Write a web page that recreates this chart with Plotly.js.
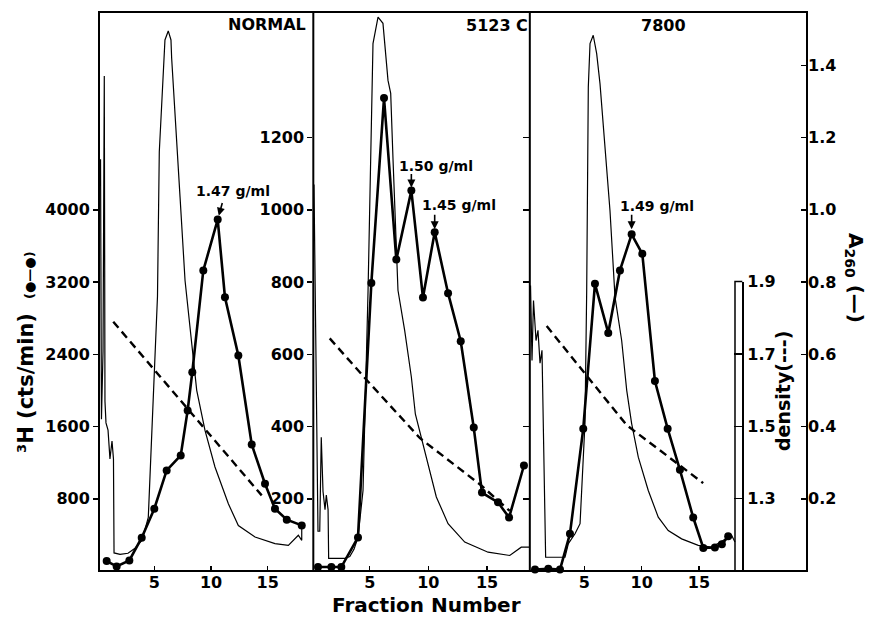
<!DOCTYPE html>
<html>
<head>
<meta charset="utf-8">
<script src="https://cdn.plot.ly/plotly-3.0.1.min.js"></script>
<style>html,body{margin:0;padding:0;background:#fff;}</style>
</head>
<body>
<div id="chart" style="width:879px;height:618px;"></div>
<script>
// ---- Panel titles ----
const panelNames = ["NORMAL", "5123 C", "7800"];

// ---- 3H (cts/min), dots + thick line ----
const frac1 = [0.80,1.68,2.80,3.89,5.00,6.09,7.33,7.94,8.35,9.32,10.59,11.23,12.41,13.59,14.76,15.64,16.68,18.00];
const h3_1  = [110,51,117,369,690,1114,1280,1778,2202,3328,3892,3032,2387,1401,966,690,568,505];

const frac2 = [0.59,1.73,2.58,4.00,5.14,6.22,7.27,8.55,9.54,10.54,11.68,12.76,13.87,14.57,15.94,16.88,18.15];
const h3_2  = [11,11,11,93,797,1309,862,1053,757,938,769,636,397,217,190,148,292];

const frac3 = [0.70,1.86,2.88,3.75,4.91,5.93,7.09,8.11,9.13,10.06,11.16,12.27,13.34,14.50,15.38,16.39,17.00,17.55];
const h3_3  = [4,6,4,103,394,795,659,832,932,878,526,394,280,148,64,65,74,96];

// ---- A260, thin line ----
const a1_f = [0.26,0.34,0.48,0.59,0.65,0.74,0.92,1.09,1.27,1.40,1.45,1.98,2.68,3.30,3.92,4.47,5.28,5.44,5.65,5.94,6.23,6.47,6.53,6.83,7.27,7.71,8.30,8.74,9.47,10.35,11.53,12.41,13.88,15.64,16.82,17.41,17.70,18.00,18.00];
const a1   = [1.14,0.42,0.61,1.37,0.47,0.41,0.39,0.31,0.36,0.31,0.05,0.046,0.049,0.063,0.085,0.148,0.76,1.16,1.29,1.47,1.495,1.47,1.42,1.275,1.035,0.804,0.629,0.50,0.389,0.288,0.186,0.126,0.094,0.076,0.071,0.089,0.099,0.085,0.135];

const a2_f = [0.25,0.42,0.59,0.74,0.87,1.02,1.19,1.30,1.45,1.50,2.89,3.30,3.66,4.00,4.43,4.86,5.28,5.71,6.13,6.56,6.79,6.99,7.41,7.98,8.55,8.89,9.54,10.12,10.68,11.68,13.10,15.09,16.94,17.92,18.64];
const a2   = [1.07,0.55,0.11,0.11,0.37,0.22,0.17,0.21,0.17,0.035,0.035,0.04,0.06,0.093,0.223,0.777,1.46,1.533,1.516,1.358,1.322,1.137,0.777,0.666,0.537,0.435,0.353,0.278,0.205,0.131,0.080,0.052,0.043,0.066,0.066];

const a3_f = [0.31,0.44,0.57,0.79,0.96,1.14,1.31,1.63,3.32,3.61,4.19,4.63,5.06,5.21,5.35,5.50,5.78,6.08,6.37,6.80,7.24,7.68,8.26,8.70,9.13,9.71,10.58,11.45,12.32,13.49,14.94,16.11,17.27,17.85,18.14];
const a3   = [0.79,0.583,0.749,0.638,0.666,0.575,0.611,0.038,0.038,0.076,0.103,0.131,0.409,0.777,1.34,1.46,1.483,1.432,1.349,1.183,0.998,0.758,0.638,0.50,0.408,0.315,0.223,0.149,0.112,0.089,0.071,0.066,0.089,0.099,0.080];

// ---- density (g/ml), dashed line ----
const d1_f = [1.38, 8.77, 14.47];
const d1   = [1.789, 1.517, 1.309];
const d2_f = [1.59, 4.74, 9.29, 14.49, 16.94];
const d2   = [1.743, 1.628, 1.467, 1.337, 1.266];
const d3_f = [1.72, 8.70, 15.37];
const d3   = [1.777, 1.503, 1.343];

// ---- tick labels ----
const fracTicks = [5, 10, 15];
const h3TicksNormal = [800, 1600, 2400, 3200, 4000];
const h3TicksOther = [200, 400, 600, 800, 1000, 1200];
const a260Ticks = [0.2, 0.4, 0.6, 0.8, 1.0, 1.2, 1.4];
const a260TickText = ["0.2", "0.4", "0.6", "0.8", "1.0", "1.2", "1.4"];
const densTicks = [1.3, 1.5, 1.7, 1.9];
const densTickText = ["1.3", "1.5", "1.7", "1.9"];

// ---- peak labels ----
const peakLabels = ["1.47 g/ml", "1.50 g/ml", "1.45 g/ml", "1.49 g/ml"];

const FONT = "DejaVu Sans";
const thin = {color: "#000", width: 1.2};
const dashed = {color: "#000", width: 2.4, dash: "8px,5px"};
const thick = {color: "#000", width: 2.6};
const mk = {color: "#000", size: 8};

const traces = [
  {x: a1_f, y: a1, xaxis: "x", yaxis: "y3", mode: "lines", line: thin},
  {x: a2_f, y: a2, xaxis: "x2", yaxis: "y3", mode: "lines", line: thin},
  {x: a3_f, y: a3, xaxis: "x3", yaxis: "y3", mode: "lines", line: thin},
  {x: d1_f, y: d1, xaxis: "x", yaxis: "y4", mode: "lines", line: dashed},
  {x: d2_f, y: d2, xaxis: "x2", yaxis: "y4", mode: "lines", line: dashed},
  {x: d3_f, y: d3, xaxis: "x3", yaxis: "y4", mode: "lines", line: dashed},
  {x: frac1, y: h3_1, xaxis: "x", yaxis: "y", mode: "lines+markers", line: thick, marker: mk},
  {x: frac2, y: h3_2, xaxis: "x2", yaxis: "y2", mode: "lines+markers", line: thick, marker: mk},
  {x: frac3, y: h3_3, xaxis: "x3", yaxis: "y5", mode: "lines+markers", line: thick, marker: mk}
].map(t => Object.assign({showlegend: false, hoverinfo: "skip", cliponaxis: false}, t));

const tf = {family: FONT, size: 16, color: "#000", weight: "bold"};
const xBase = {
  tickmode: "array", tickvals: fracTicks, ticks: "inside", ticklen: 5, tickwidth: 1.5,
  tickcolor: "#000", showgrid: false, zeroline: false, showline: false, tickfont: tf, fixedrange: true
};
const yBase = {
  showgrid: false, zeroline: false, showline: false, tickcolor: "#000", tickwidth: 1.5,
  tickfont: tf, tickmode: "array", fixedrange: true
};

const P1 = 0.3027, P2 = 0.6085, P3 = 0.9086, DTOP = 0.5177, DBOXL = 0.8983;

function txt(x, y, text, size, angle) {
  return {xref: "paper", yref: "paper", x: x, y: y, text: text, showarrow: false,
    xanchor: "center", yanchor: "middle", textangle: angle || 0,
    font: {family: FONT, size: size, color: "#000", weight: "bold"}};
}
function arrow(xr, yr, x, y, ax, ay, so) {
  return {xref: xr, yref: yr, x: x, y: y, text: "", showarrow: true, ax: ax, ay: ay,
    arrowhead: 2, arrowsize: 1, arrowwidth: 1.6, arrowcolor: "#000", standoff: so};
}

const layout = {
  width: 879, height: 618,
  margin: {l: 99, r: 72, t: 12, b: 47},
  paper_bgcolor: "#fff", plot_bgcolor: "rgba(0,0,0,0)",
  font: {family: FONT, size: 16, color: "#000", weight: "bold"},
  showlegend: false,
  xaxis:  Object.assign({}, xBase, {domain: [0, P1], range: [0.124, 19.02], anchor: "y"}),
  xaxis2: Object.assign({}, xBase, {domain: [P1, P2], range: [0.192, 18.65], anchor: "y2"}),
  xaxis3: Object.assign({}, xBase, {domain: [P2, P3], range: [0.249, 18.78], anchor: "y5"}),
  yaxis:  Object.assign({}, yBase, {domain: [0, 1], range: [0, 6190], anchor: "x", side: "left",
            tickvals: h3TicksNormal, ticks: "outside", ticklen: 5}),
  yaxis2: Object.assign({}, yBase, {domain: [0, 1], range: [0, 1547.4], anchor: "x2", side: "left",
            tickvals: h3TicksOther, ticks: "outside", ticklen: 5}),
  yaxis5: Object.assign({}, yBase, {domain: [0, 1], range: [0, 1547.4], anchor: "x3", side: "left",
            tickvals: h3TicksOther, ticks: "outside", ticklen: 6, showticklabels: false}),
  yaxis3: Object.assign({}, yBase, {domain: [0, 1], range: [0, 1.5474], anchor: "free", position: 1, side: "right",
            tickvals: a260Ticks, ticktext: a260TickText, ticks: "inside", ticklen: 6}),
  yaxis4: Object.assign({}, yBase, {domain: [0, DTOP], range: [1.1, 1.9], anchor: "free", position: P3, side: "right",
            tickvals: densTicks, ticktext: densTickText, ticks: "inside", ticklen: 8,
            showline: true, linecolor: "#000", linewidth: 1.8}),
  shapes: [
    {type: "rect", xref: "paper", yref: "paper", x0: 0, x1: 1, y0: 0, y1: 1, line: {color: "#000", width: 2}},
    {type: "line", xref: "paper", yref: "paper", x0: P1, x1: P1, y0: 0, y1: 1, line: {color: "#000", width: 2}},
    {type: "line", xref: "paper", yref: "paper", x0: P2, x1: P2, y0: 0, y1: 1, line: {color: "#000", width: 2}},
    {type: "path", xref: "paper", yref: "paper", path: `M ${DBOXL} 0 L ${DBOXL} ${DTOP} L ${P3} ${DTOP}`, line: {color: "#000", width: 1.5}}
  ],
  annotations: [
    txt(0.2373, 0.9785, panelNames[0], 16),
    txt(0.5621, 0.9767, panelNames[1], 16),
    txt(0.7980, 0.9767, panelNames[2], 16),
    txt(0.4619, -0.0608, "Fraction Number", 20),
    txt(-0.1031, 0.3363, "³H (cts/min)", 21, -90),
    txt(-0.0989, 0.5295, "(●—●)", 13, -90),
    txt(1.0678, 0.5242, "A<sub>260</sub> (—)", 20, 90),
    txt(0.9661, 0.322, "density(---)", 19, -90),
    txt(0.1893, 0.6789, peakLabels[0], 14),
    txt(0.4760, 0.7254, peakLabels[1], 14),
    txt(0.5078, 0.6547, peakLabels[2], 14),
    txt(0.7888, 0.6521, peakLabels[3], 14),
    arrow("x", "y", frac1[10], h3_1[10], 5, -18, 4),
    arrow("x2", "y2", frac2[7], h3_2[7], 0, -18, 3),
    arrow("x2", "y2", frac2[9], h3_2[9], 0, -19, 3),
    arrow("x3", "y5", frac3[8], h3_3[8], 0, -21, 5)
  ]
};

Plotly.newPlot("chart", traces, layout, {displayModeBar: false, staticPlot: true});
</script>
</body>
</html>
